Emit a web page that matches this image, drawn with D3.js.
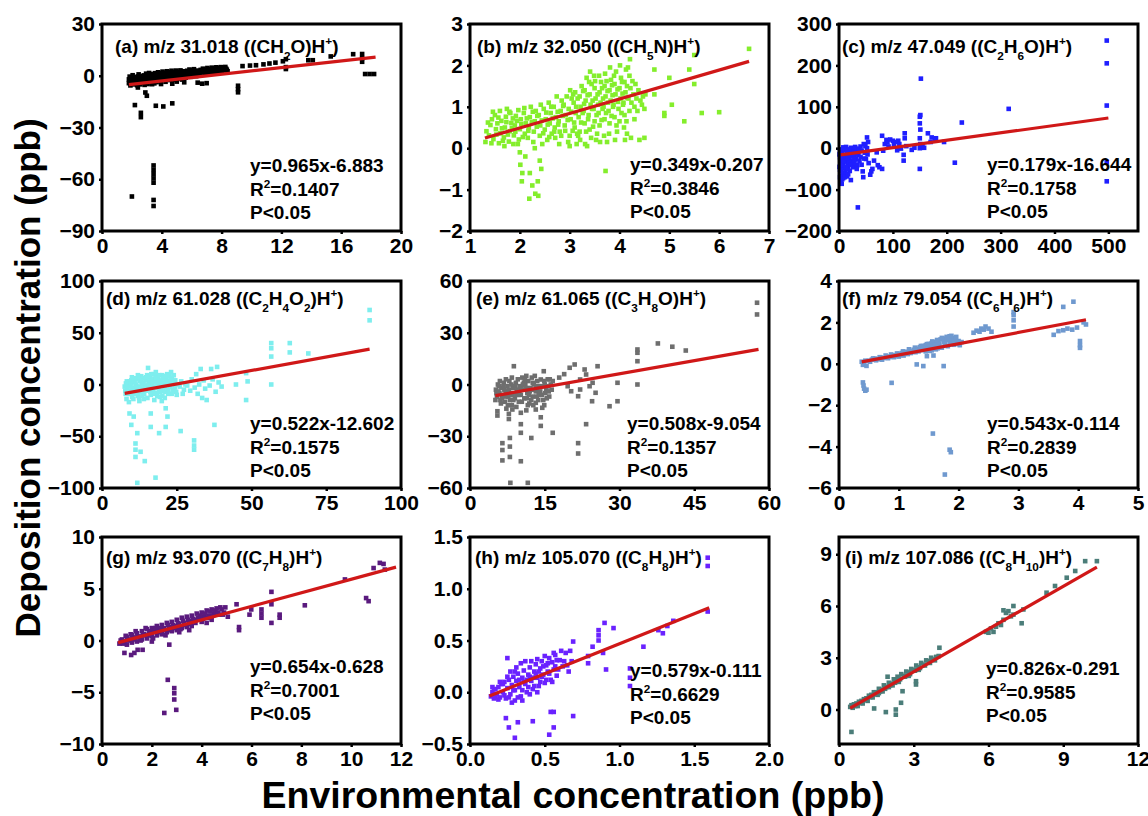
<!DOCTYPE html>
<html>
<head>
<meta charset="utf-8">
<script src="https://cdn.jsdelivr.net/npm/d3@7"></script>
<style>
body { margin: 0; background: #fff; }
text { font-family: "Liberation Sans", Arial, sans-serif; font-weight: bold; fill: #000; }
</style>
</head>
<body>
<div id="chart"></div>
<script>
// ---- data ----
var titles = [
	"(a) m/z 31.018 ((CH_2O)H^+)", "(b) m/z 32.050 ((CH_5N)H^+)", "(c) m/z 47.049 ((C_2H_6O)H^+)",
	"(d) m/z 61.028 ((C_2H_4O_2)H^+)", "(e) m/z 61.065 ((C_3H_8O)H^+)", "(f) m/z 79.054 ((C_6H_6)H^+)",
	"(g) m/z 93.070 ((C_7H_8)H^+)", "(h) m/z 105.070 ((C_8H_8)H^+)", "(i) m/z 107.086 ((C_8H_{10})H^+)"
];
var equations = ["y=0.965x-6.883", "y=0.349x-0.207", "y=0.179x-16.644", "y=0.522x-12.602", "y=0.508x-9.054",
	"y=0.543x-0.114", "y=0.654x-0.628", "y=0.579x-0.111", "y=0.826x-0.291"];
var slopes = [0.965, 0.349, 0.179, 0.522, 0.508, 0.543, 0.654, 0.579, 0.826];
var intercepts = [-6.883, -0.207, -16.644, -12.602, -9.054, -0.114, -0.628, -0.111, -0.291];
var rSquared = ["0.1407", "0.3846", "0.1758", "0.1575", "0.1357", "0.2839", "0.7001", "0.6629", "0.9585"];
var fitRanges = [[1.8, 18.3], [1.3, 6.6], [3, 500], [7.6, 89.5], [5.1, 57.9], [0.38, 4.13], [0.65, 11.8], [0.13, 1.6], [0.45, 10.35]];
var xDomains = [[0, 20], [1, 7], [0, 555], [0, 100], [0, 60], [0, 5], [0, 12], [0, 2], [0, 12]];
var yDomains = [[-90, 30], [-2, 3], [-200, 300], [-100, 100], [-60, 60], [-6, 4], [-10, 10], [-0.5, 1.5], [-2, 10]];
var xTicks = [[0, 4, 8, 12, 16, 20], [1, 2, 3, 4, 5, 6, 7], [0, 100, 200, 300, 400, 500], [0, 25, 50, 75, 100],
	[0, 15, 30, 45, 60], [0, 1, 2, 3, 4, 5], [0, 2, 4, 6, 8, 10, 12], [0, 0.5, 1, 1.5, 2], [0, 3, 6, 9, 12]];
var yTicks = [[-90, -60, -30, 0, 30], [-2, -1, 0, 1, 2, 3], [-200, -100, 0, 100, 200, 300], [-100, -50, 0, 50, 100],
	[-60, -30, 0, 30, 60], [-6, -4, -2, 0, 2, 4], [-10, -5, 0, 5, 10], [-0.5, 0, 0.5, 1, 1.5], [0, 3, 6, 9]];
var tickFormats = ["d", "d", "d", "d", "d", "d", "d", ".1f", "d"];
var colors = ["#000000", "#84ee2c", "#1f1fff", "#7eeeee", "#6e6e6e", "#6f99cf", "#5a1a7e", "#6a22ff", "#4b7d79"];

var ptsA = [
	[1.8,-2.1],[1.8,-4.3],[1.9,-3.0],[1.9,-5.6],[2.0,-1.2],[2.0,-3.8],[2.1,-2.5],[2.1,-5.0],[2.2,-0.8],[2.2,-3.3],
	[2.3,-1.9],[2.3,-4.6],[2.4,-0.4],[2.4,-2.8],[2.5,-1.5],[2.5,-3.9],[2.6,-0.6],[2.6,-2.4],[2.7,-1.3],[2.7,-4.2],
	[2.8,0.2],[2.8,-2.0],[2.9,-0.9],[2.9,-3.4],[3.0,0.4],[3.0,-1.7],[3.1,-0.5],[3.1,-2.9],[3.2,0.6],[3.2,-1.3],
	[3.3,-0.2],[3.3,-3.6],[3.4,1.0],[3.4,-1.9],[3.5,-0.8],[3.5,-4.4],[3.6,0.7],[3.6,-2.3],[3.7,-0.3],[3.8,1.2],
	[3.8,-1.5],[3.9,0.1],[3.9,-3.0],[4.0,1.4],[4.0,-0.9],[4.1,0.5],[4.1,-2.2],[4.2,1.7],[4.2,-0.4],[4.3,0.9],
	[4.4,-1.6],[4.4,2.0],[4.5,0.3],[4.6,1.5],[4.6,-0.8],[4.7,-4.6],[4.8,0.8],[4.8,2.2],[4.9,-1.0],[5.0,1.3],
	[5.0,-3.4],[5.1,2.4],[5.2,0.2],[5.3,1.6],[5.4,-0.5],[5.5,2.6],[5.5,-3.8],[5.6,1.0],[5.7,2.9],[5.8,0.4],
	[5.9,1.9],[6.0,3.1],[6.1,0.9],[6.2,2.3],[6.3,-0.2],[6.4,3.0],[6.4,-4.0],[6.5,1.5],[6.6,3.4],[6.7,-4.6],
	[6.8,2.2],[6.9,3.6],[7.0,1.0],[7.0,-4.3],[7.1,2.8],[7.2,3.9],[7.3,1.9],[7.4,3.3],[7.5,4.2],[7.6,2.4],
	[7.7,3.7],[7.8,4.4],[7.9,2.9],[8.0,3.9],[8.1,4.6],[8.2,3.2],[8.3,4.1],[8.4,2.6],
	[1.85,-0.5],[2.05,0.3],[2.15,-4.0],[2.35,-5.5],[2.45,0.8],[2.55,-5.0],[2.75,-0.2],[2.85,-5.3],[2.95,1.2],[3.05,-4.8],
	[3.15,1.6],[3.25,-2.4],[3.35,-4.9],[3.55,1.5],[3.65,-3.7],[3.75,2.0],[3.85,-2.6],[3.95,-4.8],[4.05,2.4],[4.15,-1.3],
	[4.25,-3.5],[4.35,2.6],[4.45,-0.2],[4.55,-2.5],[4.65,2.9],[4.75,-0.1],[4.85,-2.3],[4.95,3.0],[5.05,-0.2],[5.15,-1.6],
	[5.25,3.1],[5.35,-2.2],[5.45,0.9],[5.6,-1.1],[5.75,1.2],[5.85,3.6],[5.95,-0.6],[6.05,2.1],[6.15,3.8],[6.25,0.3],
	[6.35,1.9],[6.55,0.5],[6.65,2.6],[6.75,4.1],[6.85,0.6],[6.95,2.9],[7.05,4.5],[7.15,1.7],[7.35,4.7],[7.45,2.6],
	[7.55,1.3],[7.65,4.9],[7.85,2.0],[7.95,5.0],[8.05,2.3],[8.25,5.1],[8.35,3.5],
	[9.4,5.6],[9.9,5.9],[10.3,6.1],[10.8,6.6],[11.2,7.1],[11.6,7.6],[12.1,8.4],[12.3,9.6],[12.3,5.0],[12.3,3.9],
	[13.8,9.0],[14.1,9.0],[15.3,11.2],[16.8,12.5],[17.4,12.6],[17.4,10.2],[17.4,8.1],[17.6,1.0],[17.9,1.0],[18.2,1.0],
	[2.4,-6.8],[2.9,-9.7],[3.0,-11.6],[2.2,-17.0],[2.6,-21.5],[2.6,-24.0],[3.6,-17.4],[4.1,-17.8],[4.7,-16.0],
	[9.1,-5.8],[9.1,-7.8],[9.1,-9.6],
	[2.0,-70.0],[3.45,-52],[3.45,-54.5],[3.45,-57],[3.45,-59.5],[3.45,-62],[3.45,-72],[3.45,-75.5]
];
var ptsB = [
	[1.31,0.15],[1.33,0.41],[1.38,0.31],[1.41,0.56],[1.44,0.7],[1.47,0.22],[1.52,0.46],[1.5,0.8],[1.55,0.6],[1.58,0.12],
	[1.61,0.36],[1.63,0.66],[1.6,0.9],[1.68,0.26],[1.7,0.5],[1.72,0.76],[1.74,0.95],[1.69,0.05],[1.78,0.16],[1.8,0.41],
	[1.83,0.61],[1.81,0.85],[1.88,0.31],[1.9,0.55],[1.92,0.78],[1.87,0.1],[1.98,0.21],[2.0,0.46],[2.02,0.7],[1.97,0.92],
	[2.0,-0.1],[2.01,-0.4],[2.05,-0.6],[2.04,-0.8],[2.1,0.35],[2.12,0.6],[2.08,0.85],[2.11,-0.2],[2.18,0.5],[2.2,0.75],
	[2.22,1.0],[2.16,0.25],[2.2,-0.6],[2.19,-1.22],[2.25,-0.9],[2.28,0.4],[2.3,0.65],[2.32,0.9],[2.3,0.0],[2.31,-1.1],
	[2.36,-0.8],[2.37,-1.15],[2.4,0.3],[2.41,0.55],[2.38,0.8],[2.42,1.05],[2.4,-0.3],[2.43,-0.5],[2.45,0.1],[2.5,0.45],
	[2.52,0.7],[2.48,0.95],[2.55,0.2],[2.6,0.6],[2.62,0.85],[2.58,1.1],[2.64,0.35],[2.7,0.5],[2.72,0.75],[2.68,1.0],
	[2.74,1.25],[2.71,0.25],[2.8,0.4],[2.78,0.65],[2.82,0.9],[2.84,1.15],[2.79,0.1],[2.9,0.55],[2.92,0.8],[2.88,1.05],
	[2.94,1.25],[3.0,0.3],[3.02,0.7],[2.98,0.95],[3.04,1.2],[3.0,0.05],[3.01,1.4],[3.1,0.5],[3.12,0.85],[3.08,1.1],
	[3.11,1.35],[3.14,0.1],[3.2,0.4],[3.18,0.75],[3.22,1.0],[3.2,1.25],[3.24,1.5],[3.21,0.2],[3.3,0.6],[3.28,0.9],
	[3.32,1.15],[3.3,1.4],[3.34,1.7],[3.31,0.1],[3.4,0.45],[3.38,0.8],[3.42,1.05],[3.4,1.3],[3.44,1.55],[3.41,1.85],
	[3.43,0.25],[3.5,0.65],[3.48,0.95],[3.52,1.2],[3.5,1.45],[3.53,0.2],[3.49,1.75],[3.6,0.55],[3.58,0.85],[3.62,1.1],
	[3.6,1.35],[3.63,1.6],[3.61,0.15],[3.7,0.7],[3.68,1.0],[3.72,1.25],[3.7,1.5],[3.71,1.8],[3.72,-0.55],[3.69,0.3],
	[3.8,0.6],[3.78,0.9],[3.82,1.15],[3.8,1.4],[3.83,1.65],[3.81,1.95],[3.79,0.35],[3.9,0.75],[3.88,1.05],[3.92,1.3],
	[3.9,1.55],[3.93,1.85],[3.91,0.2],[4.0,0.65],[3.98,0.95],[4.02,1.2],[4.0,1.45],[4.03,1.7],[4.01,2.0],[4.1,0.8],
	[4.08,1.1],[4.12,1.35],[4.1,1.6],[4.13,1.9],[4.11,0.2],[4.09,0.5],[4.2,0.9],[4.18,1.2],[4.22,1.45],[4.2,1.75],
	[4.21,2.15],[4.23,0.25],[4.3,1.0],[4.28,1.3],[4.32,1.55],[4.3,0.7],[4.4,0.2],[4.42,1.15],[4.38,1.4],[4.5,0.25],
	[4.5,0.95],[4.52,1.3],
	[1.36,0.62],[1.43,0.12],[1.46,0.88],[1.53,0.33],[1.57,0.74],[1.64,0.48],[1.66,0.18],[1.73,0.63],[1.76,0.33],[1.79,0.88],
	[1.84,0.49],[1.86,0.72],[1.91,0.4],[1.94,0.66],[1.96,0.1],[2.03,0.58],[2.06,0.27],[2.09,0.97],[2.14,0.72],[2.17,0.42],
	[2.24,0.63],[2.26,0.88],[2.27,0.15],[2.34,0.52],[2.35,0.78],[2.44,0.67],[2.47,0.36],[2.53,0.86],[2.56,0.57],[2.59,0.27],
	[2.63,1.0],[2.66,0.72],[2.69,0.4],[2.76,0.88],[2.77,0.57],[2.83,0.3],[2.86,0.78],[2.87,1.02],[2.91,0.42],[2.96,0.68],
	[3.03,0.88],[3.06,0.42],[3.07,1.3],[3.09,0.62],[3.13,1.0],[3.16,1.2],[3.17,0.3],[3.23,0.62],[3.26,0.85],[3.27,1.38],
	[3.29,1.07],[3.33,0.4],[3.36,1.28],[3.37,0.7],[3.39,1.6],[3.45,0.95],[3.46,1.15],[3.47,0.52],[3.51,1.62],[3.54,0.8],
	[3.56,1.3],[3.57,1.05],[3.59,1.75],[3.64,0.68],[3.65,1.45],[3.66,0.95],[3.67,1.2],[3.73,0.85],[3.74,1.62],[3.76,1.38],
	[3.77,1.1],[3.84,0.78],[3.85,1.52],[3.86,1.28],[3.87,1.0],[3.89,1.75],[3.94,0.55],[3.96,1.42],[3.97,1.12],[4.04,0.85],
	[4.05,1.6],[4.06,1.32],[4.07,1.05],[4.14,0.65],[4.15,1.5],[4.16,1.22],[4.17,1.95],[4.24,1.1],[4.26,1.62],[4.34,1.2],
	[4.36,0.9],[4.45,1.05],[4.47,1.25],[3.35,0.05],[3.55,0.35],[3.75,0.15],[3.95,0.4],[4.15,0.35],[2.97,0.15],[3.15,0.35],
	[4.7,1.3],[4.7,1.9],[4.9,0.85],[4.9,0.78],[5.0,1.7],[5.05,1.05],[5.3,0.65],[5.4,1.9],[5.5,2.25],[5.5,1.55],
	[5.65,0.85],[6.0,0.87],[6.6,2.4]
];
var ptsC = [
	[2,-5],[2,-22],[3,-38],[2,-52],[3,-66],[4,-80],[5,-86],[5,-12],[6,-44],[7,-60],[7,-28],[8,-72],[8,2],[9,-17],[10,-48],[10,-4],
	[12,-32],[12,-57],[13,3],[14,-22],[15,-9],[15,-68],[16,-40],[18,-4],[18,-26],[20,-55],[20,-14],[22,-77],[22,1],[24,-30],
	[25,-10],[26,-46],[28,-4],[28,-20],[30,-8],[31,-26],[33,-1],[34,-41],[35,-143],[36,-16],[38,-31],[40,4],[40,-21],[42,-6],
	[44,-56],[45,-70],[46,10],[48,-11],[50,-26],[52,26],[52,0],[54,15],[55,-36],[58,-64],[60,-56],[62,-50],[65,-30],[70,-10],
	[72,-41],[75,-46],[80,-50],[80,30],[82,-6],[85,10],[88,20],[90,14],[92,4],[95,21],[100,18],[102,9],[105,15],[108,-5],
	[110,18],[112,10],[115,-1],[120,-30],[120,-16],[122,36],[122,24],[125,5],[135,-4],[140,1],[150,-50],[150,0],[151,10],
	[150,24],[151,45],[150,60],[150,76],[151,80],[152,168],[155,4],[158,1],[165,36],[170,15],[172,26],[178,20],[180,24],
	[195,15],[215,-35],[228,62],[315,95],[497,260],[497,205],[497,103],[497,-33],[497,-80],
	[4,-30],[9,-62],[11,-20],[17,-50],[19,-33],[23,-8],[27,-36],[32,-14],
	[1,-15],[1,-45],[2,-70],[3,-12],[4,-55],[5,-25],[6,-75],[6,-3],[7,-40],[9,-32],[11,-70],[13,-45],[14,-8],[16,-24],
	[17,-63],[19,-3],[21,-40],[23,-20],[26,-15],[29,-30],[30,3],[33,-50],[37,-3],[42,-40],[47,-25],[49,5],[53,-15]
];
var ptsD = [
	[7.6,-2],[7.8,-6],[8.0,1],[8.4,-4],[8.7,0],[8.9,-9],[9.1,3],[9.4,-1],[9.6,-6],[9.8,4],[10.1,-12],[10.3,-3],[10.6,2],
	[10.8,-8],[11.1,6],[11.3,0],[11.6,-5],[11.8,5],[12.0,-11],[12.3,-2],[12.6,3],[12.8,-7],[13.1,8],[13.3,1],[13.6,-4],
	[13.8,6],[14.1,-9],[14.3,-1],[14.6,4],[14.8,-6],[15.1,9],[15.4,16],[15.6,2],[15.8,-3],[16.1,7],[16.3,-10],[16.6,0],
	[16.8,5],[17.1,-5],[17.3,10],[17.6,3],[17.8,-2],[18.1,8],[18.3,-8],[18.6,1],[18.8,6],[19.1,-4],[19.3,-12],[19.6,4],
	[19.8,-1],[20.1,9],[20.3,-6],[20.6,2],[20.8,7],[21.1,-3],[21.4,5],[21.6,0],[21.8,10],[22.1,-9],[22.3,3],[22.6,8],
	[22.8,-2],[23.1,12],[23.4,6],[23.7,-5],[24.1,1],[24.5,4],[24.8,-7],[26.0,-2],[26.5,3],[27.4,-5],[27.9,0],
	[8.2,-14],[9.0,-17],[12.5,-16],[14.0,-14],[17.5,-15],[20.0,-16],[21.0,-13],[10.0,7],[12.0,9],[18.0,12],
	[7.9,-9],[8.3,3],[8.9,-2],[9.3,-9],[9.7,1],[10.2,-6],[10.5,-14],[10.9,3],[11.4,-9],[11.7,-2],[12.2,7],[12.4,-13],
	[12.9,-3],[13.2,4],[13.5,-11],[13.9,1],[14.4,-5],[14.7,7],[15.2,-13],[15.5,-1],[15.9,4],[16.2,-7],[16.5,10],[16.9,-3],
	[17.2,2],[17.5,-9],[17.9,6],[18.2,-3],[18.5,-11],[18.9,3],[19.2,9],[19.5,-7],[19.9,1],[20.2,-11],[20.5,6],[20.9,-2],
	[21.2,-7],[21.5,8],[21.9,3],[22.2,-5],[22.5,0],[22.9,5],[23.3,-9],[23.6,2],[24.0,9],[24.3,-3],[25,-10],[25.5,0],[27,-9],
	[28.5,-1],[29.5,-6],[30.0,5],[31.0,-3],[31.5,10],[32.0,-9],[32.5,0],[33.0,15],[33.5,-13],[34.0,4],[34.5,-4],
	[35.0,-15],[36.0,-1],[36.5,15],[37.0,5],[38.0,-7],[38.5,17],[39.0,2],[40.0,-2],
	[9.2,-28],[9.8,-39],[10.6,-31],[11.8,-47],[11.2,-57],[11.2,-63],[11.2,-70],[12.9,-65],[14.3,-74],[11.8,-95],[17.9,-90],
	[16.3,-41],[16.3,-28],[19.1,-47],[21.3,-41],[21.9,-31],[21.3,-23],[26.3,-45],[30.8,-54],[30.8,-59],[30.8,-63],[37.6,-39],
	[48.2,-15],[44.8,0],[48.7,3],[48.2,11],[56.6,35],[56.6,40],[56.6,27],[56.6,0],[62.8,40],[62.8,31],[69,30],[89.5,72],[89.5,62]
];
var ptsE = [
	[5.2,-3],[5.4,-7],[5.6,0],[5.9,-5],[6.1,-9],[6.3,-2],[6.6,-6],[6.8,1],[7.0,-10],[7.2,-4],[7.5,-1],[7.7,-7],[7.9,2],
	[8.2,-5],[8.4,-12],[8.6,-2],[8.8,10.6],[9.0,-8],[9.2,1],[9.4,-4],[9.6,3],[9.8,-10],[10.0,-1],[10.2,-6],[10.5,4],
	[10.7,-3],[10.9,-8],[11.1,0],[11.3,5],[11.5,-5],[11.7,2],[11.9,-11],[12.1,-2],[12.4,4],[12.6,-7],[12.8,0],[13.0,5],
	[13.2,-4],[13.5,2],[13.7,-9],[13.9,-1],[14.2,2.9],[14.4,-6],[14.8,7.7],[15.0,0],[15.3,-3],[15.6,3],[15.9,-7],[16.2,0],
	[5.3,-5],[5.8,-1],[6.4,-8],[6.9,-3],[7.4,-6],[8.0,-9],[8.5,-6],[9.1,-1],[9.7,-6],[10.3,-2],[10.8,1],[11.4,-8],[12.0,-4],
	[12.6,1],[13.3,-2],[13.8,-6],[14.5,-1],[15.1,-5],[15.7,-1],[6.0,2],[7.2,3],[8.4,4],[9.5,-3],[11.0,3],
	[5.1,-9],[5.7,-4],[6.2,-11],[6.7,-1],[7.1,-7],[7.6,-12],[7.8,-3],[8.3,0],[8.7,-9],[9.3,-6],[9.9,-4],[10.4,-10],[10.6,0],
	[11.2,-2],[11.6,-12],[11.8,-6],[12.3,-9],[12.9,-3],[13.4,-7],[13.6,-1],[14.1,-4],[14.7,-9],[14.9,2],[15.4,-8],[15.8,-4],
	[16.0,3],[16.4,-3],[7.3,-14],[9.3,-13],[11.3,-15],[12.7,-12],[14.9,-12],
	[5.5,-15.5],[5.5,-18],[6.5,-34],[6.5,-38],[6.5,-44],[7.8,-17],[7.8,-20],[8.0,-31],[8.0,-36],[8.0,-42],[8.1,-57],
	[10.2,-23],[10.2,-28],[10.2,-44.5],[11.6,-57],[12.3,-31],[13.2,-10.6],[13.2,-14.5],[14.2,-19],[14.2,-24],[14.5,-13.5],
	[16.6,-28],[10.2,-16.4],[8.5,-14.5],
	[16.6,2],[17.9,4],[18.9,6],[19.6,-1],[20,9.7],[21,11.6],[20.3,-3.9],[21.7,-6.8],[22.1,-2.9],[22.1,2.9],[23,8.7],
	[23.3,5.8],[23.3,-23],[21.7,-34],[21.7,-40],[24,-1],[24.5,-9.7],[25.2,-4.8],[25.6,10.6],[24.6,1],
	[28,-12.6],[29.6,-9.7],[29.6,1],[33.6,0],[33.6,13.5],[33.6,18.4],[33.6,20.3],[37.7,23.8],[40.6,21.9],[43.3,19.7],
	[57.6,47.4],[57.6,40.6]
];
var ptsF = [
	[0.38,0.1],[0.4,-0.05],[0.42,0.05],[0.44,0.15],[0.46,-0.1],[0.4,-0.9],[0.41,-1.05],[0.42,-1.2],[0.44,-1.3],[0.46,-1.25],
	[0.88,-0.92],
	[0.5,0.15],[0.55,0.2],[0.6,0.25],[0.65,0.22],[0.7,0.3],[0.75,0.28],[0.8,0.35],[0.85,0.33],[0.9,0.42],[0.95,0.38],
	[1.0,0.48],[1.0,0.35],[1.05,0.52],[1.08,0.4],[1.1,0.58],[1.15,0.47],[1.18,0.62],[1.2,0.52],[1.25,0.68],[1.28,0.56],
	[1.3,0.73],[1.33,0.6],[1.35,0.8],[1.38,0.66],[1.4,0.86],[1.42,0.72],[1.45,0.9],[1.48,0.76],[1.5,0.96],[1.52,0.62],
	[1.55,1.0],[1.57,0.84],[1.6,1.05],[1.62,0.7],[1.65,1.1],[1.67,0.9],[1.7,1.18],[1.72,0.78],[1.75,1.22],[1.77,0.96],
	[1.8,1.3],[1.82,0.85],[1.85,1.33],[1.87,1.05],[1.9,1.25],[1.92,0.92],[1.95,1.15],[1.98,1.0],[2.0,1.1],[2.02,0.9],
	[0.52,0.1],[0.57,0.26],[0.62,0.17],[0.68,0.32],[0.72,0.2],[0.78,0.4],[0.82,0.27],[0.87,0.45],[0.92,0.32],[0.97,0.5],
	[1.02,0.42],[1.07,0.6],[1.12,0.5],[1.17,0.7],[1.22,0.58],[1.27,0.78],[1.32,0.66],[1.37,0.86],[1.42,0.78],[1.47,0.95],
	[1.52,0.84],[1.56,1.08],[1.6,0.92],[1.64,1.15],[1.68,0.98],[1.72,1.25],[1.76,1.05],[1.8,1.15],[1.84,1.2],[1.88,1.35],
	[1.92,1.12],[1.96,1.3],[2.0,0.95],[2.05,1.05],[1.55,0.65],[1.65,0.75],[1.45,0.6],[1.85,0.95],
	[1.3,-0.03],[1.41,-0.11],[1.47,0.37],[1.58,0.4],[1.75,-0.11],
	[1.57,-3.37],[1.85,-4.15],[1.87,-4.27],[1.77,-5.35],
	[2.25,1.5],[2.3,1.6],[2.35,1.55],[2.38,1.7],[2.42,1.65],[2.45,1.8],[2.5,1.7],[2.55,1.55],
	[2.92,1.8],[2.92,2.1],[2.92,2.35],[2.92,2.5],
	[3.59,1.4],[3.67,1.58],[3.75,2.75],[3.92,3.0],[3.75,1.62],[3.82,1.7],[3.9,1.65],[3.98,1.75],[4.03,1.1],[4.03,0.9],[4.03,0.77],[4.09,2.0],[4.13,1.9]
];
var ptsG = [
	[0.7,-0.3],[0.8,0.1],[0.9,-0.1],[1.0,0.3],[1.0,-0.4],[1.1,0.1],[1.2,0.5],[1.2,-0.2],[1.3,0.3],[1.4,0.7],[1.4,-0.1],
	[1.5,0.4],[1.6,0.9],[1.6,0.1],[1.7,0.6],[1.8,1.1],[1.8,0.2],[1.9,0.7],[2.0,1.2],[2.0,0.4],[2.1,0.9],[2.2,1.4],[2.2,0.5],
	[2.3,1.0],[2.4,1.5],[2.4,0.6],[2.5,1.2],[2.6,0.8],[2.6,1.7],[2.7,1.3],[2.8,0.9],[2.8,1.8],[2.9,1.4],[3.0,1.0],[3.0,2.0],
	[3.1,1.6],[3.2,1.2],[3.2,2.2],[3.3,1.7],[3.4,2.3],[3.4,1.3],[3.5,1.9],[3.6,2.4],[3.6,1.4],[3.7,2.0],[3.8,2.6],[3.9,2.1],
	[4.0,2.7],[4.0,1.8],[4.1,2.3],[4.2,2.9],[4.3,2.4],[4.4,3.0],[4.4,2.0],[4.5,2.6],[4.6,3.1],[4.7,2.5],[4.8,3.0],[4.9,2.7],
	[0.75,0.0],[0.85,-0.3],[0.95,0.45],[1.05,0.0],[1.15,0.6],[1.25,0.1],[1.35,0.9],[1.45,0.3],[1.55,0.0],[1.65,0.5],
	[1.75,1.2],[1.85,0.5],[1.95,0.9],[2.05,0.2],[2.15,1.2],[2.25,0.8],[2.35,1.2],[2.45,1.0],[2.55,0.5],[2.65,1.5],
	[2.75,1.0],[2.85,1.5],[2.95,1.2],[3.05,1.7],[3.15,1.1],[3.25,1.9],[3.35,1.5],[3.45,2.0],[3.55,1.6],[3.65,2.1],
	[3.75,1.7],[3.85,2.2],[3.95,2.4],[4.05,2.1],[4.15,2.6],[4.25,2.2],[4.35,2.8],[4.45,2.4],[4.55,2.9],[4.65,2.7],
	[4.75,3.2],[4.85,2.5],[4.95,3.2],[3.5,1.0],[4.2,1.7],[2.0,-0.1],[3.1,0.8],
	[0.9,-1.2],[1.17,-1.4],[1.3,-1.2],[1.43,-0.9],[1.63,-0.9],[2.7,-0.4],[2.64,-3.8],[2.9,-4.6],[2.9,-5.1],[2.9,-5.7],[2.98,-6.7],[2.5,-7.0],
	[5.05,2.3],[5.4,3.5],[5.5,1.0],[5.5,1.3],[5.92,2.5],[5.99,3.0],[6.4,2.2],[6.4,2.6],[6.4,3.0],[6.8,4.7],[6.8,3.5],[6.8,1.7],
	[7.13,2.2],[7.13,2.5],[8.14,3.4],[9.75,5.9],[10.6,4.1],[10.7,3.8],[10.9,7.0],[11.15,7.5],[11.35,6.85],[11.3,7.4]
];
var ptsH = [
	[0.14,-0.04],[0.15,0.0],[0.16,-0.06],[0.17,0.03],[0.18,-0.02],[0.19,0.05],[0.2,-0.05],[0.21,0.08],[0.22,0.0],[0.23,0.1],
	[0.24,-0.06],[0.25,0.04],[0.25,0.33],[0.26,0.12],[0.27,-0.02],[0.28,0.07],[0.29,0.15],[0.3,-0.08],[0.3,0.02],[0.31,0.11],
	[0.32,0.18],[0.33,0.05],[0.34,-0.04],[0.35,0.14],[0.36,0.21],[0.37,0.08],[0.38,0.0],[0.39,0.17],[0.4,0.24],[0.41,0.11],
	[0.42,0.03],[0.43,0.2],[0.44,0.27],[0.45,0.14],[0.46,0.06],[0.47,0.23],[0.48,0.3],[0.49,0.17],[0.5,0.09],[0.51,0.26],
	[0.52,0.2],[0.53,0.33],[0.54,0.12],[0.55,0.29],[0.56,0.22],[0.57,0.36],[0.58,0.16],[0.6,0.31],[0.62,0.25],[0.64,0.38],
	[0.66,0.2],[0.68,0.3],
	[0.15,0.05],[0.16,0.03],[0.17,-0.05],[0.19,-0.07],[0.2,0.1],[0.22,0.08],[0.23,-0.03],[0.25,0.15],[0.26,-0.05],[0.27,0.2],
	[0.28,-0.1],[0.29,0.02],[0.31,0.24],[0.32,-0.05],[0.33,0.12],[0.34,0.28],[0.35,0.02],[0.36,0.1],[0.37,0.3],[0.38,0.12],
	[0.39,0.05],[0.4,0.15],[0.41,0.3],[0.42,0.14],[0.43,0.06],[0.44,0.18],[0.45,0.32],[0.46,0.2],[0.47,0.1],[0.48,0.15],
	[0.49,0.25],[0.5,0.35],[0.51,0.12],[0.52,0.28],[0.53,0.18],[0.55,0.1],[0.56,0.38],[0.57,0.25],[0.58,0.31],[0.59,0.22],
	[0.61,0.4],[0.63,0.3],[0.65,0.26],[0.67,0.4],[0.35,-0.08],[0.4,-0.02],[0.45,0.0],[0.3,0.2],
	[0.24,-0.25],[0.26,-0.34],[0.3,-0.44],[0.32,-0.29],[0.42,-0.28],[0.54,-0.19],[0.56,-0.19],[0.53,-0.41],[0.56,-0.34],[0.69,-0.23],
	[0.69,0.49],[0.79,0.35],[0.79,0.28],[0.82,0.44],[0.86,0.6],[0.86,0.55],[0.86,0.5],[0.9,0.67],[0.91,0.22],[0.89,0.38],[0.96,0.62],
	[1.07,0.23],[1.07,0.14],[1.07,0.06],[1.16,0.44],[1.26,0.6],[1.29,0.57],[1.32,0.64],[1.36,0.69],[1.59,1.3],[1.59,1.22],[1.59,0.78]
];
var ptsI = [
	[0.45,0.15],[0.5,0.25],[0.55,0.1],[0.6,0.3],[0.7,0.35],[0.75,0.2],[0.8,0.45],[0.9,0.5],[0.95,0.35],[1.0,0.6],[1.1,0.65],
	[1.15,0.5],[1.2,0.8],[1.3,0.85],[1.35,0.7],[1.4,1.0],[1.5,1.0],[1.55,0.85],[1.6,1.2],[1.7,1.15],[1.75,1.05],[1.8,1.4],
	[1.9,1.3],[1.95,1.9],[2.0,1.55],[2.1,1.5],[2.15,1.4],[2.2,1.75],[2.3,1.65],[2.35,1.9],[2.4,1.8],[2.5,2.05],[2.6,1.95],
	[2.7,2.2],[2.8,2.15],[2.9,2.35],[3.0,2.3],[3.1,2.55],[3.2,2.45],[3.3,2.7],[3.4,2.6],[3.5,2.85],[3.6,2.8],[3.7,3.0],[3.8,2.9],[3.9,3.05],
	[0.65,0.2],[0.85,0.38],[1.05,0.55],[1.25,0.72],[1.45,0.88],[1.65,1.05],[1.85,1.2],[2.05,1.4],[2.25,1.55],[2.45,1.75],
	[2.65,1.9],[2.85,2.05],[3.05,2.25],[3.25,2.4],[3.45,2.55],[3.65,2.7],[3.85,2.85],[4.0,3.1],[1.6,0.95],[2.0,1.3],[2.4,1.6],[2.8,1.95],[3.2,2.3],
	[0.5,-1.3],[1.41,0.06],[1.88,-0.15],[2.28,0.0],[2.28,-0.3],[2.49,0.39],[2.55,1.06],[3.09,1.64],[3.09,1.45],[4.03,3.58],
	[5.9,4.5],[6.0,4.45],[6.1,4.7],[6.2,4.5],[6.3,4.8],[6.4,5.0],[6.5,4.9],[6.6,5.2],[6.7,5.6],[6.8,5.7],[6.9,5.4],[7.0,6.0],[7.0,5.5],[6.6,5.75],
	[7.33,5.0],[7.4,5.8],[8.33,6.77],[8.67,7.16],[9.14,7.64],[9.48,8.03],[9.88,8.6],[10.35,8.6]
];
var allPoints = [ptsA, ptsB, ptsC, ptsD, ptsE, ptsF, ptsG, ptsH, ptsI];

// ---- layout ----
var W = 1148, H = 816;
var colLeft = [102, 470, 839], rowTop = [24, 281, 537];
var pw = 299, ph = 207;
var titleDx = [13, 7, 3, 4, 6, 3, 4, 5, 6], titleDy = [29, 24, 27];
var eqDx = [148, 160, 148, 148, 157, 148, 148, 160, 147], eqDy = [148, 147, 147, 149, 149, 149, 136, 140, 138];

var svg = d3.select("#chart").append("svg").attr("width", W).attr("height", H);

// write a string with _x subscripts and ^x superscripts as tspans
function rich(sel, str, fs) {
	var parts = str.split(/(_\{[^}]*\}|\^\{[^}]*\}|_.|\^.)/).filter(function(s) { return s.length; });
	var shift = 0;
	parts.forEach(function(p) {
		var t = p, dy = 0, small = false;
		if (p[0] === "_" || p[0] === "^") {
			t = p.slice(1).replace(/[{}]/g, "");
			dy = p[0] === "_" ? fs * 0.38 : -fs * 0.42;
			small = true;
		}
		sel.append("tspan").attr("dy", dy - shift).attr("font-size", small ? fs * 0.62 : fs).text(t);
		shift = dy;
	});
}

allPoints.forEach(function(pts, i) {
	var col = i % 3, row = Math.floor(i / 3);
	var g = svg.append("g").attr("transform", "translate(" + colLeft[col] + "," + rowTop[row] + ")");
	var x = d3.scaleLinear().domain(xDomains[i]).range([0, pw]);
	var y = d3.scaleLinear().domain(yDomains[i]).range([ph, 0]);
	var fmt = d3.format(tickFormats[i]);

	// axes
	var xa = g.append("g").attr("transform", "translate(0," + ph + ")")
		.call(d3.axisBottom(x).tickValues(xTicks[i]).tickSize(3).tickPadding(4).tickFormat(fmt));
	var ya = g.append("g")
		.call(d3.axisLeft(y).tickValues(yTicks[i]).tickSize(3).tickPadding(4).tickFormat(fmt));
	[xa, ya].forEach(function(a) {
		a.select(".domain").remove();
		a.selectAll(".tick line").attr("stroke", "#000").attr("stroke-width", 2.5);
		a.selectAll(".tick text").attr("font-size", 21).attr("fill", "#000")
			.style("font-family", "'Liberation Sans', Arial, sans-serif").style("font-weight", "bold");
	});

	// points
	g.selectAll("rect.pt").data(pts).enter().append("rect")
		.attr("class", "pt")
		.attr("x", function(d) { return x(d[0]) - 2.3; })
		.attr("y", function(d) { return y(d[1]) - 2.3; })
		.attr("width", 4.6).attr("height", 4.6)
		.attr("fill", colors[i]);

	// fit line
	var line = d3.line().x(function(d) { return x(d); }).y(function(d) { return y(slopes[i] * d + intercepts[i]); });
	g.append("path").datum(fitRanges[i]).attr("d", line)
		.attr("fill", "none").attr("stroke", "#d01818").attr("stroke-width", 3.2);

	// frame
	g.append("rect").attr("width", pw).attr("height", ph)
		.attr("fill", "none").attr("stroke", "#000").attr("stroke-width", 3);

	// title
	var t = g.append("text").attr("x", titleDx[i]).attr("y", titleDy[row]);
	rich(t, titles[i], 19);

	// equation block
	var lines = [equations[i], "R^2=" + rSquared[i], "P<0.05"];
	lines.forEach(function(s, k) {
		var e = g.append("text").attr("x", eqDx[i]).attr("y", eqDy[i] + k * 23.5);
		rich(e, s, 19);
	});
});

// axis titles
svg.append("text").attr("transform", "translate(40," + 378 + ") rotate(-90)")
	.attr("text-anchor", "middle").attr("font-size", 35).text("Deposition concentration (ppb)");
svg.append("text").attr("x", 573).attr("y", 808)
	.attr("text-anchor", "middle").attr("font-size", 37.5).text("Environmental concentration (ppb)");
</script>
</body>
</html>
